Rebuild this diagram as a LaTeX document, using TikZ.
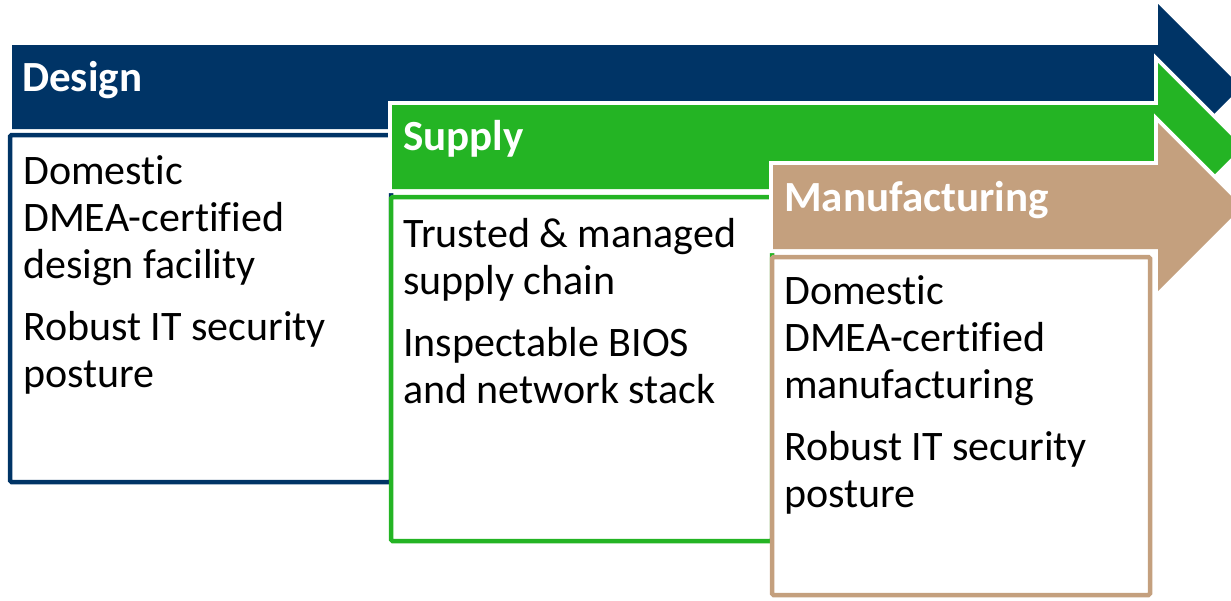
\documentclass[tikz,border=0pt]{standalone}
\usepackage{fontspec}
\setmainfont{Carlito}[Ligatures=NoCommon]
\definecolor{designblue}{RGB}{0,52,102}
\definecolor{supplygreen}{RGB}{36,180,36}
\definecolor{manutan}{RGB}{196,160,126}
\tikzset{
  phase/.style={font=\bfseries\fontsize{43}{50}\selectfont,text=white,anchor=base west,inner sep=0pt},
  body/.style={font=\fontsize{42}{47}\selectfont,align=left,anchor=base west,inner sep=0pt},
  panel/.style={draw=#1,line width=4.5pt,fill=white,rounded corners=1.5pt},
  halo/.style={draw=white,line width=8pt,line join=miter}
}
\begin{document}
\begin{tikzpicture}[x=1pt,y=-1pt]
\useasboundingbox (0,0) rectangle (1231,600);
% design
\fill[designblue] (12,45) -- (1158,45) -- (1158,4) -- (1241,87) -- (1158,170) -- (1158,129) -- (12,129) -- cycle;
\draw[panel=designblue] (10,135) rectangle (391,482);
\node[phase] (design) at (22,91) {Design};
% base of a multi-line node sits on its last line
\node[body] (designtext) at (23,387) {Domestic\\DMEA-certified\\design facility\\[15pt]Robust IT security\\posture};

% supply
\draw[halo] (392,105) -- (1158,105) -- (1158,63) -- (1242,147) -- (1158,231) -- (1158,189) -- (392,189) -- cycle;
\fill[supplygreen] (392,105) -- (1158,105) -- (1158,63) -- (1242,147) -- (1158,231) -- (1158,189) -- (392,189) -- cycle;
\draw[panel=supplygreen] (391,197) rectangle (772,541);
\node[phase] (supply) at (403,150) {Supply};
\node[body] (supplytext) at (403,403) {Trusted \& managed\\supply chain\\[15pt]Inspectable BIOS\\and network stack};

% manufacturing
\draw[halo] (773,165) -- (1158,165) -- (1158,123) -- (1242,207) -- (1158,291) -- (1158,249) -- (773,249) -- cycle;
\fill[manutan] (773,165) -- (1158,165) -- (1158,123) -- (1242,207) -- (1158,291) -- (1158,249) -- (773,249) -- cycle;
\draw[panel=manutan] (772,257) rectangle (1150,595);
\node[phase] (manufacturing) at (784,211) {Manufacturing};
\node[body] (manufacturingtext) at (784,507) {Domestic\\DMEA-certified\\manufacturing\\[15pt]Robust IT security\\posture};
\end{tikzpicture}
\end{document}
